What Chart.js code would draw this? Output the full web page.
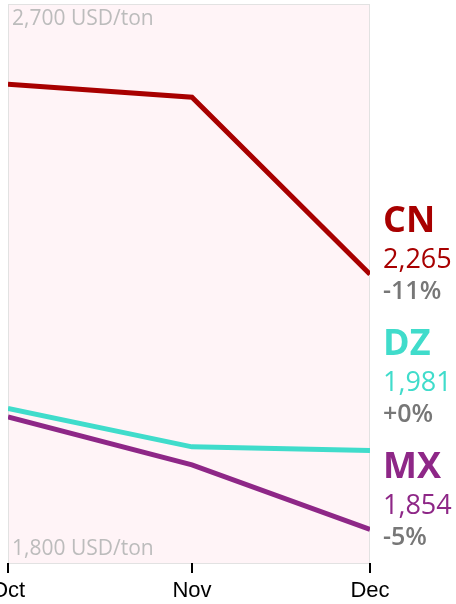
<!DOCTYPE html>
<html>
<head>
<meta charset="utf-8">
<script src="https://cdn.jsdelivr.net/npm/chart.js@4"></script>
<style>
  html, body { margin: 0; padding: 0; background: #fff; }
  #wrap { width: 456px; height: 604px; }
</style>
</head>
<body>
<div id="wrap"><canvas id="priceChart"></canvas></div>
<script>
// Dados
const months = ['Oct', 'Nov', 'Dec'];
const monthDays = [0, 31, 61]; // dias desde 1 de outubro
const seriesNames = ['CN', 'DZ', 'MX'];
const cnValues = [2571, 2550, 2265];
const dzValues = [2049, 1987, 1981];
const mxValues = [2035, 1958, 1854];
const seriesColors = ['#a80000', '#40dccb', '#8e2787'];
const yMin = 1800;
const yMax = 2700;
const unitLabel = 'USD/ton';

function fmt(v) {
    return v.toLocaleString('en-US');
}

function toPoints(vals) {
    return vals.map(function(v, i) { return { x: monthDays[i], y: v }; });
}

// fundo rosa + bordas + textos
const decorPlugin = {
    id: 'decor',
    beforeDraw(chart) {
        const { ctx, chartArea: a } = chart;
        ctx.save();
        ctx.fillStyle = '#fff4f7';
        ctx.fillRect(a.left, a.top, a.right - a.left, a.bottom - a.top);
        ctx.strokeStyle = '#e2e2e2';
        ctx.lineWidth = 1;
        ctx.strokeRect(a.left + 0.5, a.top + 0.5, a.right - a.left - 1, a.bottom - a.top);
        ctx.restore();
    },
    afterDraw(chart) {
        const { ctx, chartArea: a } = chart;
        const xs = chart.scales.x;
        const ys = chart.scales.y;
        ctx.save();
        // rótulos min/max
        ctx.font = '21px "Open Sans"';
        ctx.fillStyle = '#bcbcbc';
        ctx.textAlign = 'left';
        ctx.textBaseline = 'middle';
        ctx.fillText(fmt(yMax) + ' ' + unitLabel, a.left + 4, a.top + 15);
        ctx.fillText(fmt(yMin) + ' ' + unitLabel, a.left + 4, a.bottom - 14);

        // rótulos do eixo x
        ctx.font = '22px "Liberation Sans"';
        ctx.fillStyle = '#000';
        ctx.textAlign = 'center';
        months.forEach(function(m, i) {
            ctx.fillText(m, xs.getPixelForValue(monthDays[i]), a.bottom + 28);
        });

        // rótulos à direita, evitando sobreposição (de baixo para cima)
        const all = [cnValues, dzValues, mxValues];
        const items = all.map(function(vals, i) {
            const last = vals[vals.length - 1];
            const prev = vals[vals.length - 2];
            return {
                name: seriesNames[i],
                color: seriesColors[i],
                value: last,
                pct: Math.round((last - prev) / prev * 100),
                y: ys.getPixelForValue(last)
            };
        }).sort(function(p, q) { return q.y - p.y; });
        let limit = a.bottom - 58;
        items.forEach(function(it) {
            it.y = Math.min(it.y, limit);
            limit = it.y - 123;
        });
        const lx = a.right + 13;
        ctx.textAlign = 'left';
        items.forEach(function(it) {
            ctx.fillStyle = it.color;
            ctx.font = 'bold 36px "Open Sans"';
            ctx.fillText(it.name, lx, it.y - 37);
            ctx.font = '27px "Open Sans"';
            ctx.fillText(fmt(it.value), lx, it.y + 1);
            ctx.fillStyle = '#777';
            ctx.font = '600 25px "Open Sans"';
            const p = (it.pct >= 0 ? '+' : '') + it.pct + '%';
            ctx.fillText(p, lx, it.y + 33);
        });
        ctx.restore();
    }
};

document.addEventListener('DOMContentLoaded', function() {
    const ctx = document.getElementById('priceChart').getContext('2d');
    new Chart(ctx, {
        type: 'line',
        data: {
            datasets: [
                { label: 'CN', data: toPoints(cnValues), borderColor: seriesColors[0] },
                { label: 'DZ', data: toPoints(dzValues), borderColor: seriesColors[1] },
                { label: 'MX', data: toPoints(mxValues), borderColor: seriesColors[2] }
            ]
        },
        options: {
            responsive: true,
            maintainAspectRatio: false,
            animation: false,
            layout: {
                padding: { left: 8, right: 86, top: 4, bottom: 31 }
            },
            elements: {
                line: { borderWidth: 5, tension: 0, borderJoinStyle: 'miter' },
                point: { radius: 0 }
            },
            scales: {
                x: {
                    type: 'linear',
                    min: monthDays[0],
                    max: monthDays[monthDays.length - 1],
                    afterBuildTicks: function(scale) {
                        scale.ticks = monthDays.map(function(d) { return { value: d }; });
                    },
                    grid: {
                        drawOnChartArea: false,
                        drawTicks: true,
                        tickLength: 10,
                        color: '#000',
                        lineWidth: 2
                    },
                    border: { display: false },
                    ticks: { display: false }
                },
                y: {
                    display: false,
                    min: yMin,
                    max: yMax
                }
            },
            plugins: {
                legend: { display: false },
                tooltip: { enabled: false }
            }
        },
        plugins: [decorPlugin]
    });
});
</script>
</body>
</html>
